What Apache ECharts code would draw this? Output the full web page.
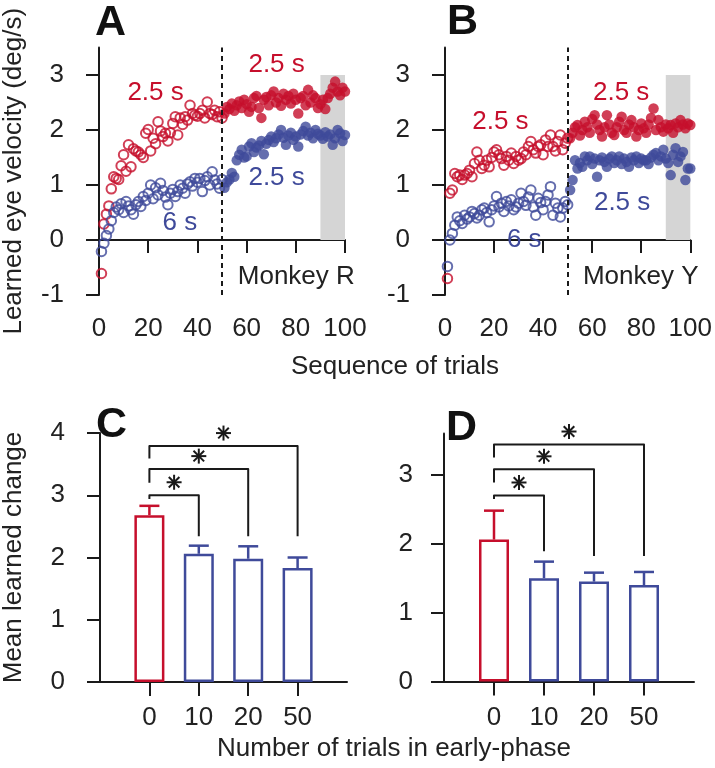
<!DOCTYPE html>
<html>
<head>
<meta charset="utf-8">
<script src="https://cdn.jsdelivr.net/npm/echarts@6/dist/echarts.min.js"></script>
<style>
html,body{margin:0;padding:0;background:#fff;}
#chart{width:715px;height:768px;}
</style>
</head>
<body>
<div id="chart"></div>
<script>
// ---------- DATA ----------
// Panel A (Monkey R): learned eye velocity by trial
const aRedEarly = [-0.61,0.29,0.47,0.62,0.93,1.15,1.12,1.10,1.35,1.55,1.25,1.73,1.33,1.66,1.62,1.60,1.55,1.50,1.94,2.01,1.62,1.85,1.75,2.15,1.98,1.88,1.94,1.80,1.95,2.12,2.24,1.91,2.22,2.10,2.24,2.18,2.45,2.30,2.27,2.25,2.30,2.36,2.22,2.51,2.30,2.28,2.36,2.24,2.33,2.22];
const aRedLate = [2.30,2.42,2.38,2.48,2.35,2.45,2.52,2.40,2.55,2.47,2.33,2.42,2.58,2.62,2.40,2.22,2.55,2.60,2.45,2.63,2.70,2.50,2.58,2.44,2.66,2.55,2.62,2.48,2.66,2.55,2.30,2.58,2.62,2.45,2.73,2.50,2.63,2.58,2.40,2.47,2.55,2.38,2.58,2.66,2.77,2.88,2.70,2.63,2.77,2.70];
const aBlueEarly = [-0.21,-0.06,0.08,0.20,0.35,0.50,0.60,0.55,0.66,0.50,0.70,0.62,0.55,0.47,0.64,0.70,0.61,0.79,0.72,0.85,1.00,0.75,0.95,0.82,1.03,0.90,0.78,0.64,0.85,0.92,0.79,0.88,1.00,0.94,0.85,1.02,1.06,0.98,1.12,1.05,1.12,0.88,1.08,1.15,1.00,1.24,1.09,1.02,0.94,1.10];
const aBlueLate = [0.95,1.05,1.10,1.22,1.15,1.45,1.55,1.64,1.50,1.52,1.70,1.76,1.60,1.68,1.72,1.80,1.56,1.75,1.82,1.88,1.78,1.85,1.92,2.00,1.86,1.73,1.90,1.95,1.82,1.88,1.70,1.92,1.98,2.06,1.90,1.95,1.85,2.00,1.93,1.90,1.84,1.96,1.88,1.92,1.73,1.85,2.00,1.94,1.80,1.91];
// Panel B (Monkey Y)
const bRedEarly = [-0.70,0.85,0.91,1.21,1.15,1.18,1.10,1.18,1.21,1.27,1.15,1.39,1.60,1.45,1.30,1.36,1.45,1.33,1.50,1.60,1.64,1.55,1.48,1.36,1.52,1.45,1.58,1.39,1.52,1.45,1.48,1.60,1.55,1.70,1.79,1.64,1.58,1.70,1.73,1.55,1.82,1.70,1.91,1.70,1.62,1.79,1.91,1.64,1.76,1.85];
const bRedLate = [1.85,1.95,2.05,2.09,1.90,2.00,2.15,2.05,1.95,2.20,2.27,2.10,2.00,1.88,2.05,2.27,2.10,1.95,1.91,2.05,2.15,2.24,2.00,1.95,2.10,2.18,2.05,1.88,2.00,2.12,2.03,1.95,2.10,2.22,2.39,2.00,2.18,2.05,1.97,2.10,2.03,2.09,1.95,2.12,2.05,2.18,2.10,2.03,2.12,2.09];
const bBlueEarly = [-0.48,0.00,0.12,0.27,0.42,0.35,0.30,0.45,0.38,0.42,0.52,0.48,0.40,0.45,0.55,0.58,0.50,0.33,0.55,0.62,0.79,0.60,0.67,0.52,0.70,0.62,0.73,0.55,0.60,0.67,0.85,0.70,0.63,0.78,0.91,0.60,0.45,0.76,0.68,0.55,0.70,0.82,0.97,0.45,0.67,0.58,0.42,0.58,0.70,0.64];
const bBlueLate = [0.91,1.09,1.45,1.30,1.40,1.33,1.52,1.45,1.52,1.38,1.48,1.15,1.45,1.50,1.42,1.33,1.48,1.52,1.40,1.45,1.52,1.38,1.48,1.42,1.33,1.50,1.45,1.52,1.40,1.48,1.45,1.45,1.38,1.50,1.55,1.58,1.45,1.52,1.64,1.48,1.40,1.18,1.55,1.67,1.42,1.52,1.60,1.09,1.30,1.30];
const earlyStartTrial = 1;
const lateStartTrial = 51;
const seqTicks = [0, 20, 40, 60, 80, 100];

// Panels C, D: mean learned change
const barCats = ['0', '10', '20', '50'];
const cMean = [2.68, 2.06, 1.98, 1.83];
const cErr  = [0.15, 0.13, 0.20, 0.17];
const dMean = [2.06, 1.50, 1.45, 1.40];
const dErr  = [0.42, 0.24, 0.13, 0.19];
// significance brackets: from category 0 to category k
const sigTargets = [1, 2, 3];
const cSigTop   = [3.00, 3.42, 3.79];
const cSigLeft  = [2.94, 3.20, 3.59];
const cSigRight = [2.34, 2.34, 2.34];
const dSigTop   = [2.70, 3.08, 3.44];
const dSigLeft  = [2.65, 2.89, 3.25];
const dSigRight = [1.89, 1.82, 1.82];

// ---------- STYLE ----------
const RED = '#C60F2C';
const BLUE = '#3F4A9A';
const INK = '#1a1a1a';
const FONT = '"Liberation Sans", Arial, Helvetica, sans-serif';
const FS = 26;

const pts = (vals, start) => vals.map((v, i) => [start + i, v]);

const chart = echarts.init(document.getElementById('chart'), null, {renderer: 'canvas'});

function baseAxisStyle() {
  return {
    axisLine: {show: true, lineStyle: {color: INK, width: 2}},
    axisTick: {show: true, length: 13, lineStyle: {color: INK, width: 2}},
    axisLabel: {fontSize: FS, color: '#222', fontFamily: FONT},
    splitLine: {show: false}
  };
}

function seqX(grid) {
  const s = baseAxisStyle();
  return Object.assign(s, {
    gridIndex: grid, type: 'value', min: 0, max: 100, offset: 1,
    axisLabel: Object.assign(s.axisLabel, {margin: 20, customValues: seqTicks}),
    axisTick: Object.assign(s.axisTick, {customValues: seqTicks})
  });
}
function velY(grid, name) {
  const s = baseAxisStyle();
  const vals = [-1, 0, 1, 2, 3];
  return Object.assign(s, {
    gridIndex: grid, type: 'value', min: -1, max: 3.5, offset: 15,
    axisLabel: Object.assign(s.axisLabel, {margin: 20, customValues: vals}),
    axisTick: Object.assign(s.axisTick, {customValues: vals}),
    name: name || '', nameLocation: 'middle', nameGap: 57, nameRotate: 90,
    nameTextStyle: {fontSize: FS, color: '#222', fontFamily: FONT}
  });
}
function barX(grid) {
  const s = baseAxisStyle();
  const vals = [1, 2, 3, 4];
  return Object.assign(s, {
    gridIndex: grid, type: 'value', min: 0, max: 5,
    axisLabel: Object.assign(s.axisLabel, {margin: 23, customValues: vals, formatter: v => barCats[Math.round(v) - 1]}),
    axisTick: Object.assign(s.axisTick, {length: 14, customValues: vals})
  });
}
function barY(grid, max, offset, name) {
  const s = baseAxisStyle();
  const vals = [];
  for (let v = 0; v <= max + 1e-9; v += 1) vals.push(v);
  return Object.assign(s, {
    gridIndex: grid, type: 'value', min: 0, max: max, offset: offset,
    axisLabel: Object.assign(s.axisLabel, {margin: 18, customValues: vals}),
    axisTick: Object.assign(s.axisTick, {customValues: vals}),
    name: name || '', nameLocation: 'middle', nameGap: 56, nameRotate: 90,
    nameTextStyle: {fontSize: FS, color: '#222', fontFamily: FONT}
  });
}

function openSeries(grid, vals, color) {
  return {type: 'scatter', xAxisIndex: grid, yAxisIndex: grid, data: pts(vals, earlyStartTrial),
    symbol: 'circle', symbolSize: 9.5, silent: true,
    itemStyle: {color: 'rgba(255,255,255,0)', borderColor: color, borderWidth: 2}};
}
function filledSeries(grid, vals, color) {
  return {type: 'scatter', xAxisIndex: grid, yAxisIndex: grid, data: pts(vals, lateStartTrial),
    symbol: 'circle', symbolSize: 10.5, silent: true, itemStyle: {color: color}};
}
function annot(name, coord, color) {
  return {name: name, coord: coord, label: {color: color}};
}
function markers(grid, texts) {
  return {type: 'scatter', xAxisIndex: grid, yAxisIndex: grid, data: [], silent: true,
    markArea: {silent: true, itemStyle: {color: '#D5D5D5'}, data: [[{coord: [90, 0]}, {coord: [100, 3]}]]},
    markLine: {silent: true, symbol: 'none', label: {show: false},
      lineStyle: {color: INK, type: [5, 4], width: 2}, data: [{xAxis: 50}]},
    markPoint: {silent: true, symbol: 'circle', symbolSize: 0, itemStyle: {color: 'rgba(0,0,0,0)'},
      label: {show: true, position: 'inside', formatter: '{b}', fontSize: FS, fontFamily: FONT},
      data: texts}
  };
}

function barSeries(grid, means) {
  return {type: 'bar', xAxisIndex: grid, yAxisIndex: grid, barWidth: 30, silent: true,
    data: means.map((m, i) => ({value: [i + 1, m], itemStyle: {borderColor: i === 0 ? RED : BLUE}})),
    itemStyle: {color: '#fff', borderWidth: 2.5}};
}
function errSeries(grid, means, errs) {
  return {type: 'custom', xAxisIndex: grid, yAxisIndex: grid, silent: true, z: 3,
    data: means.map((m, i) => [i + 1, m, errs[i]]),
    renderItem: function (params, api) {
      const x = api.value(0), m = api.value(1), e = api.value(2);
      const p0 = api.coord([x, m]);
      const p1 = api.coord([x, m + e]);
      const col = params.dataIndex === 0 ? RED : BLUE;
      const st = {stroke: col, lineWidth: 2.5};
      return {type: 'group', children: [
        {type: 'line', shape: {x1: p0[0], y1: p0[1], x2: p1[0], y2: p1[1]}, style: st},
        {type: 'line', shape: {x1: p1[0] - 10, y1: p1[1], x2: p1[0] + 10, y2: p1[1]}, style: st}
      ]};
    }};
}
function sigSeries(grid, tops, lefts, rights) {
  return {type: 'custom', xAxisIndex: grid, yAxisIndex: grid, silent: true, z: 3,
    data: sigTargets.map((t, i) => [1, t + 1, tops[i], lefts[i], rights[i]]),
    renderItem: function (params, api) {
      const xl = api.value(0), xr = api.value(1), top = api.value(2), yl = api.value(3), yr = api.value(4);
      const a = api.coord([xl, yl]), b = api.coord([xl, top]), c = api.coord([xr, top]), d = api.coord([xr, yr]);
      const st = {stroke: INK, lineWidth: 2, fill: null, lineJoin: 'round'};
      const cx = (b[0] + c[0]) / 2, cy = b[1] - 13, r = 7.5;
      const kids = [{type: 'polyline', shape: {points: [a, b, c, d]}, style: st}];
      for (let k = 0; k < 4; k++) {
        const ang = k * Math.PI / 4;
        const dx = r * Math.cos(ang), dy = r * Math.sin(ang);
        kids.push({type: 'line', shape: {x1: cx - dx, y1: cy - dy, x2: cx + dx, y2: cy + dy},
          style: {stroke: INK, lineWidth: 2}});
      }
      return {type: 'group', children: kids};
    }};
}

function letter(t, x, y) {
  return {type: 'text', x: x, y: y, silent: true,
    style: {text: t, font: 'bold 43px ' + FONT, fill: '#111', align: 'left', verticalAlign: 'top'}};
}
function caption(t, x, y) {
  return {type: 'text', x: x, y: y, silent: true,
    style: {text: t, font: FS + 'px ' + FONT, fill: '#222', align: 'center', verticalAlign: 'middle'}};
}

const option = {
  animation: false,
  backgroundColor: '#fff',
  grid: [
    {left: 97, top: 47.5, width: 248, height: 247.5},
    {left: 445, top: 47.5, width: 248, height: 247.5},
    {left: 97, top: 433, width: 250, height: 249},
    {left: 444, top: 433.5, width: 250, height: 248}
  ],
  xAxis: [seqX(0), seqX(1), barX(2), barX(3)],
  yAxis: [velY(0, 'Learned eye velocity (deg/s)'), velY(1, ''), barY(2, 4, 17, 'Mean learned change'), barY(3, 3.6, 13, '')],
  series: [
    markers(0, [annot('2.5 s', [23, 2.67], RED), annot('2.5 s', [72.2, 3.18], RED),
                annot('2.5 s', [72.2, 1.13], BLUE), annot('6 s', [32.9, 0.31], BLUE),
                annot('Monkey R', [80.2, -0.67], '#222')]),
    markers(1, [annot('2.5 s', [22.6, 2.15], RED), annot('2.5 s', [71.8, 2.67], RED),
                annot('2.5 s', [72.2, 0.67], BLUE), annot('6 s', [32.3, 0.0], BLUE),
                annot('Monkey Y', [79.8, -0.67], '#222')]),
    openSeries(0, aRedEarly, RED), filledSeries(0, aRedLate, RED),
    openSeries(0, aBlueEarly, BLUE), filledSeries(0, aBlueLate, BLUE),
    openSeries(1, bRedEarly, RED), filledSeries(1, bRedLate, RED),
    openSeries(1, bBlueEarly, BLUE), filledSeries(1, bBlueLate, BLUE),
    barSeries(2, cMean), errSeries(2, cMean, cErr), sigSeries(2, cSigTop, cSigLeft, cSigRight),
    barSeries(3, dMean), errSeries(3, dMean, dErr), sigSeries(3, dSigTop, dSigLeft, dSigRight)
  ],
  graphic: [
    letter('A', 95, 2), letter('B', 447, 1), letter('C', 96, 404), letter('D', 446, 407),
    caption('Sequence of trials', 395, 367),
    caption('Number of trials in early-phase', 394, 749)
  ]
};
chart.setOption(option);
</script>
</body>
</html>
